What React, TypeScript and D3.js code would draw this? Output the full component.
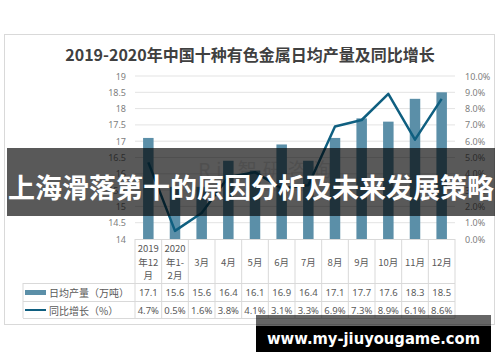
import React from "react";
import * as d3 from "d3";

const categories = ["2019\n年12\n月", "2020\n年1-\n2月", "3月", "4月", "5月", "6月", "7月", "8月", "9月", "10月", "11月", "12月"];
const outputValues = [17.1, 15.6, 15.6, 16.4, 16.1, 16.9, 16.4, 17.1, 17.7, 17.6, 18.3, 18.5];
const growthValues = [4.7, 0.5, 1.6, 3.8, 4.1, 3.1, 3.3, 6.9, 7.3, 8.9, 6.1, 8.6];
const leftTicks = [14, 14.5, 15, 15.5, 16, 16.5, 17, 17.5, 18, 18.5, 19];
const rightTicks = [0, 1, 2, 3, 4, 5, 6, 7, 8, 9, 10];
const seriesNames = ["日均产量（万吨）", "同比增长（%）"];
const title = "2019-2020年中国十种有色金属日均产量及同比增长";
const bannerText = "上海滑落第十的原因分析及未来发展策略";
const watermarkText = "www.my-jiuyougame.com";

const BAR = "#5b8fa8";
const LINE = "#0f5f80";
const GRID = "#e3e3e3";
const BORDER = "#d9d9d9";
const TXT = "#595959";
const FONT = "'Noto Sans', 'Noto Sans CJK SC', sans-serif";
const CJK = "'Noto Sans CJK SC', sans-serif";

export default function App() {
  const left = 135, right = 455, top = 76, bottom = 239;
  const x = d3.scaleBand<number>().domain(categories.map((_, i) => i)).range([left, right]).padding(0);
  const bw = x.bandwidth();
  const barW = 10.5;
  const yL = d3.scaleLinear().domain([14, 19]).range([bottom, top]);
  const yR = d3.scaleLinear().domain([0, 10]).range([bottom, top]);
  const line = d3.line<number>().x((_, i) => (x(i) as number) + bw / 2).y((d) => yR(d));
  const rowTop = 283, rowMid = 301, rowBot = 318;

  return (
    <div style={{ position: "absolute", left: 0, top: 0 }}>
      <svg width={500} height={362} style={{ display: "block", background: "#fff" }}>
        <rect x={0} y={0} width={500} height={362} fill="#fff" />
        <rect x={4.5} y={34.5} width={490} height={290} fill="#fff" stroke={BORDER} />
        <text x={250} y={54} textAnchor="middle" dominantBaseline="central" fontFamily={CJK} fontWeight="bold" fontSize={16} fill="#404040">{title}</text>

        {leftTicks.map((t) => (
          <g key={"l" + t}>
            {t !== 14 && <line x1={left} x2={right} y1={yL(t)} y2={yL(t)} stroke={GRID} strokeWidth={1} />}
            <text x={126} y={yL(t)} textAnchor="end" dominantBaseline="central" fontFamily={FONT} fontSize={9} fill="#808080">{t}</text>
          </g>
        ))}
        {rightTicks.map((t) => (
          <text key={"r" + t} x={465} y={yR(t)} dominantBaseline="central" fontFamily={FONT} fontSize={9} fill="#808080">{t.toFixed(1) + "%"}</text>
        ))}

        <text x={268} y={168} dominantBaseline="central" textAnchor="middle" fontFamily={CJK} fontSize={19} fill="#cfcfcf" opacity={0.6} letterSpacing={6}>Ri 智研咨询</text>

        {outputValues.map((v, i) => (
          <rect key={"b" + i} x={(x(i) as number) + (bw - barW) / 2} y={yL(v)} width={barW} height={bottom - yL(v)} fill={BAR} />
        ))}
        <path d={line(growthValues) || ""} fill="none" stroke={LINE} strokeWidth={2.5} strokeLinejoin="round" />

        {/* table */}
        <line x1={left} x2={right} y1={bottom + 0.5} y2={bottom + 0.5} stroke={BORDER} />
        {d3.range(categories.length + 1).map((i) => {
          const xx = left + i * bw;
          return <line key={"v" + i} x1={xx} x2={xx} y1={bottom} y2={rowBot} stroke={BORDER} />;
        })}
        <line x1={23} x2={23} y1={rowTop} y2={rowBot} stroke={BORDER} />
        {[rowTop, rowMid, rowBot].map((yy) => (
          <line key={"h" + yy} x1={23} x2={right} y1={yy + 0.5} y2={yy + 0.5} stroke={BORDER} />
        ))}
        {categories.map((c, i) => {
          const lines = c.split("\n");
          const cx = (x(i) as number) + bw / 2;
          const y0 = lines.length === 3 ? 248 : 262;
          return (
            <text key={"c" + i} textAnchor="middle" fontFamily={CJK} fontSize={9.5} fill={TXT}>
              {lines.map((s, j) => (
                <tspan key={j} x={cx} y={y0 + j * 13.5} dominantBaseline="central">{s}</tspan>
              ))}
            </text>
          );
        })}
        {outputValues.map((v, i) => (
          <text key={"ov" + i} x={(x(i) as number) + bw / 2} y={292.5} textAnchor="middle" dominantBaseline="central" fontFamily={FONT} fontSize={9.5} fill={TXT}>{v.toFixed(1)}</text>
        ))}
        {growthValues.map((v, i) => (
          <text key={"gv" + i} x={(x(i) as number) + bw / 2} y={310} textAnchor="middle" dominantBaseline="central" fontFamily={FONT} fontSize={9.5} fill={TXT}>{v.toFixed(1) + "%"}</text>
        ))}
        <rect x={25} y={290} width={21} height={5} fill={BAR} />
        <line x1={25} x2={46} y1={310} y2={310} stroke={LINE} strokeWidth={2} />
        <text x={49} y={292} dominantBaseline="central" fontFamily={CJK} fontSize={10} fill={TXT}>{seriesNames[0]}</text>
        <text x={49} y={310} dominantBaseline="central" fontFamily={CJK} fontSize={10} fill={TXT}>{seriesNames[1]}</text>

        {/* overlays */}
        <rect x={7} y={148} width={488} height={68} fill="rgba(0,0,0,0.65)" />
        <text x={251} y={186} textAnchor="middle" dominantBaseline="central" fontFamily={CJK} fontWeight="bold" fontSize={27} fill="#fff">{bannerText}</text>

        <rect x={256} y={315} width={235} height={11} fill="rgba(0,0,0,0.6)" />
        <rect x={256} y={326} width={235} height={26} fill="#000" />
        <text x={373.5} y={338} textAnchor="middle" dominantBaseline="central" fontFamily="'DejaVu Sans', sans-serif" fontWeight="bold" fontSize={16} textLength={213} lengthAdjust="spacingAndGlyphs" fill="#fff">{watermarkText}</text>
      </svg>
    </div>
  );
}
